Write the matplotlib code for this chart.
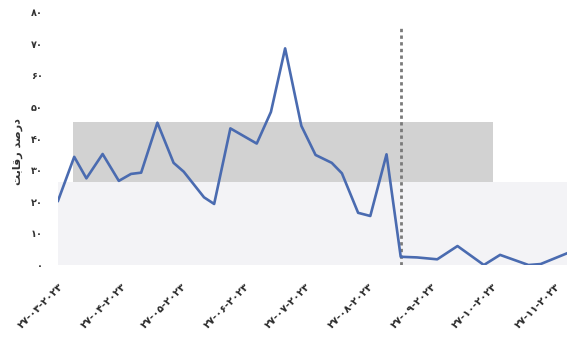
import matplotlib
matplotlib.use("Agg")
import matplotlib.pyplot as plt
import pandas as pd

# data (percent competition)
dates = ["2023-03-27", "2023-04-04", "2023-04-10", "2023-04-18", "2023-04-26",
         "2023-05-02", "2023-05-07", "2023-05-15", "2023-05-23", "2023-05-28",
         "2023-06-07", "2023-06-12", "2023-06-20", "2023-07-03", "2023-07-10",
         "2023-07-17", "2023-07-25", "2023-08-01", "2023-08-09", "2023-08-14",
         "2023-08-22", "2023-08-28", "2023-09-05", "2023-09-12", "2023-09-20",
         "2023-09-30", "2023-10-10", "2023-10-23", "2023-10-31", "2023-11-14",
         "2023-11-20", "2023-12-03"]
values = [20.3, 34.2, 27.4, 35.1, 26.6, 28.8, 29.2, 45.0, 32.3, 29.5,
          21.4, 19.3, 43.2, 38.4, 48.4, 68.5, 44.0, 34.8, 32.3, 29.0,
          16.5, 15.5, 35.0, 2.6, 2.4, 1.8, 6.0, 0.0, 3.2, 0.0,
          0.3, 3.7]
tick_dates = ["2023-03-27", "2023-04-27", "2023-05-27", "2023-06-27", "2023-07-27",
              "2023-08-27", "2023-09-27", "2023-10-27", "2023-11-27"]
y_ticks = [0, 10, 20, 30, 40, 50, 60, 70, 80]
cutoff_date = "2023-09-12"
cutoff_top = 76

# "درصد رقابت" written in shaped presentation forms, visual order
y_label = "\ufe96\ufe91\ufe8e\ufed7\ufead \ufeaa\ufebb\ufead\ufea9"

fa_digits = str.maketrans("0123456789", "۰۱۲۳۴۵۶۷۸۹")


def to_fa(s):
    return str(s).translate(fa_digits)


x = pd.to_datetime(dates)
ticks = pd.to_datetime(tick_dates)

plt.rcParams['font.family'] = ['DejaVu Sans']

fig = plt.figure(figsize=(5.67, 3.47), dpi=100)
ax = fig.add_axes([0.1023, 0.2363, 0.8977, 0.7291])

# watermark-like background
ax.axhspan(0, 26.2, color='#f3f3f6', zorder=0, lw=0)
ax.axhspan(26.2, 45.2, xmin=0.03, xmax=0.855, color='#d2d2d2', zorder=0, lw=0)

ax.plot(x, values, color='#4a6bb0', linewidth=1.9, zorder=3)
ax.plot([pd.to_datetime(cutoff_date)] * 2, [0, cutoff_top], color='#7a7a7a',
        linestyle=(0, (1.2, 1.2)), linewidth=2, zorder=2)

ax.set_xlim(x[0], x[-1])
ax.set_ylim(0, 80)

ax.set_yticks(y_ticks)
ax.set_yticklabels([to_fa(v) for v in y_ticks], fontsize=7, fontweight='bold', color='#333333')
ax.set_xticks(ticks)
ax.set_xticklabels([to_fa(t.strftime("%d-%m-%Y")) for t in ticks], rotation=45,
                   ha='right', va='top', rotation_mode='anchor',
                   fontsize=7.5, fontweight='bold', color='#2a2a2a')
ax.tick_params(axis='both', length=0)
ax.tick_params(axis='y', pad=11)
ax.tick_params(axis='x', pad=12)

for s in ax.spines.values():
    s.set_visible(False)

ax.set_ylabel(y_label, fontsize=8, fontweight='bold', color='#333333')
ax.yaxis.set_label_coords(-0.068, 0.45)

fig.savefig("out.png", dpi=100)
